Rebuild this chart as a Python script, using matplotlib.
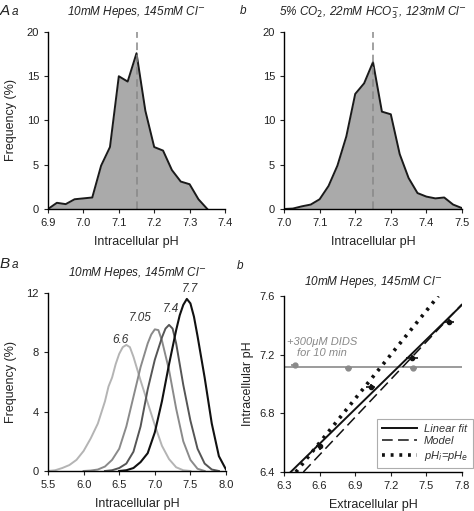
import matplotlib
matplotlib.use("Agg")
import matplotlib.pyplot as plt
from matplotlib.lines import Line2D

plt.rcParams['font.family'] = ['Liberation Sans', 'DejaVu Sans']
plt.rcParams['font.size'] = 8
plt.rcParams['axes.linewidth'] = 1.0
plt.rcParams['xtick.direction'] = 'out'
plt.rcParams['ytick.direction'] = 'out'
plt.rcParams['xtick.major.size'] = 3
plt.rcParams['ytick.major.size'] = 3

# === Panel Aa: Hepes histogram ===
aa_ph = [6.9, 6.925, 6.95, 6.975, 7.0, 7.025, 7.05, 7.075, 7.1, 7.125, 7.15, 7.175,
         7.2, 7.225, 7.25, 7.275, 7.3, 7.325, 7.35]
aa_freq = [0, 0.7, 0.55, 1.1, 1.2, 1.3, 4.9, 7.0, 15.0, 14.4, 17.6, 11.1,
           7.0, 6.6, 4.4, 3.1, 2.8, 1.1, 0]
aa_mean = 7.15

# === Panel Ab: CO2/HCO3 histogram ===
ab_ph = [7.0, 7.025, 7.05, 7.075, 7.1, 7.125, 7.15, 7.175, 7.2, 7.225, 7.25, 7.275,
         7.3, 7.325, 7.35, 7.375, 7.4, 7.425, 7.45, 7.475, 7.5]
ab_freq = [0, 0.05, 0.3, 0.5, 1.1, 2.6, 4.9, 8.2, 13.0, 14.2, 16.6, 11.0,
           10.7, 6.2, 3.5, 1.8, 1.4, 1.2, 1.3, 0.5, 0.1]
ab_mean = 7.25

# === Panel Ba: distributions at different pHe ===
ba_labels = ['6.6', '7.05', '7.4', '7.7']
ba_x1 = [5.5, 5.6, 5.7, 5.8, 5.9, 6.0, 6.1, 6.2, 6.3, 6.35, 6.4, 6.45, 6.5, 6.55,
         6.6, 6.65, 6.7, 6.8, 6.9, 7.0, 7.1, 7.2, 7.3, 7.4, 7.5]
ba_y1 = [0, 0.05, 0.2, 0.4, 0.75, 1.35, 2.2, 3.2, 4.7, 5.7, 6.3, 7.2, 7.9, 8.35,
         8.5, 8.35, 7.7, 6.1, 4.6, 3.1, 1.7, 0.8, 0.25, 0.05, 0]
ba_x2 = [6.0, 6.1, 6.2, 6.3, 6.4, 6.5, 6.6, 6.7, 6.8, 6.9, 6.95, 7.0, 7.05, 7.1,
         7.2, 7.3, 7.4, 7.5, 7.6, 7.7]
ba_y2 = [0, 0.03, 0.1, 0.3, 0.75, 1.5, 3.0, 5.0, 7.0, 8.6, 9.2, 9.55, 9.5, 8.8,
         6.8, 4.2, 2.0, 0.75, 0.15, 0]
ba_x3 = [6.3, 6.4, 6.5, 6.6, 6.7, 6.8, 6.9, 7.0, 7.1, 7.15, 7.2, 7.25, 7.3, 7.4,
         7.5, 7.6, 7.7, 7.8, 7.9]
ba_y3 = [0, 0.05, 0.2, 0.5, 1.3, 3.0, 5.5, 7.5, 9.0, 9.6, 9.85, 9.6, 8.6, 5.8,
         3.4, 1.5, 0.5, 0.1, 0]
ba_x4 = [6.5, 6.6, 6.7, 6.8, 6.9, 7.0, 7.1, 7.2, 7.3, 7.35, 7.4, 7.45, 7.5, 7.55,
         7.6, 7.7, 7.8, 7.9, 8.0]
ba_y4 = [0, 0.05, 0.2, 0.6, 1.2, 2.6, 4.7, 7.2, 9.5, 10.5, 11.2, 11.6, 11.3, 10.4,
         9.1, 6.3, 3.2, 1.0, 0.1]
ba_label_x = [6.52, 6.8, 7.22, 7.5]
ba_label_y = [8.8, 10.3, 10.9, 12.3]

# === Panel Bb: pHi vs pHe ===
bb_phe = [6.6, 7.03, 7.38, 7.69]
bb_phi = [6.575, 6.98, 7.175, 7.425]
bb_xerr = [0.03, 0.04, 0.05, 0.04]
bb_yerr = [0.025, 0.02, 0.02, 0.02]
dids_phe = [6.39, 6.84, 7.39]
dids_phi = [7.13, 7.11, 7.11]
dids_xerr = [0.03, 0.03, 0.03]
dids_level = 7.118
fit_x = [6.356, 7.8]
fit_y = [6.4, 7.54]
model_x = [6.463, 7.8]
model_y = [6.4, 7.545]
ident = [6.4, 7.6]

fig = plt.figure(figsize=(4.74, 5.11), dpi=100)
txt = '#222222'


def style(ax):
    ax.spines['top'].set_visible(False)
    ax.spines['right'].set_visible(False)
    ax.tick_params(colors=txt, labelsize=8)


# --- Aa ---
ax1 = fig.add_axes([0.1013, 0.591, 0.3734, 0.3464])
ax1.fill_between(aa_ph, aa_freq, color='#aaaaaa', lw=0)
ax1.plot(aa_ph, aa_freq, color='#1a1a1a', lw=1.4)
ax1.plot([aa_mean, aa_mean], [0, 20], color='#888888', lw=1.1, ls=(0, (5, 3)))
ax1.set_xlim(6.9, 7.4)
ax1.set_ylim(0, 20)
ax1.set_xticks([6.9, 7.0, 7.1, 7.2, 7.3, 7.4])
ax1.set_xticklabels(['6.9', '7.0', '7.1', '7.2', '7.3', '7.4'])
ax1.set_yticks([0, 5, 10, 15, 20])
ax1.set_xlabel('Intracellular pH', fontsize=9, color=txt, labelpad=6)
ax1.set_ylabel('Frequency (%)', fontsize=9, color=txt, labelpad=7)
ax1.set_title(r'10mM Hepes, 145mM Cl$^{-}$', fontsize=8.5, style='italic',
              color=txt, pad=12)
style(ax1)

# --- Ab ---
ax2 = fig.add_axes([0.5992, 0.591, 0.3755, 0.3464])
ax2.fill_between(ab_ph, ab_freq, color='#aaaaaa', lw=0)
ax2.plot(ab_ph, ab_freq, color='#1a1a1a', lw=1.4)
ax2.plot([ab_mean, ab_mean], [0, 20], color='#888888', lw=1.1, ls=(0, (5, 3)))
ax2.set_xlim(7.0, 7.5)
ax2.set_ylim(0, 20)
ax2.set_xticks([7.0, 7.1, 7.2, 7.3, 7.4, 7.5])
ax2.set_xticklabels(['7.0', '7.1', '7.2', '7.3', '7.4', '7.5'])
ax2.set_yticks([0, 5, 10, 15, 20])
ax2.set_xlabel('Intracellular pH', fontsize=9, color=txt, labelpad=6)
ax2.set_title(r'5% CO$_2$, 22mM HCO$_3^{-}$, 123mM Cl$^{-}$', fontsize=8.5,
              style='italic', color=txt, pad=12)
style(ax2)

# --- Ba ---
ax3 = fig.add_axes([0.1013, 0.0783, 0.3755, 0.3483])
ax3.plot(ba_x1, ba_y1, color='#b4b4b4', lw=1.4)
ax3.plot(ba_x2, ba_y2, color='#8a8a8a', lw=1.4)
ax3.plot(ba_x3, ba_y3, color='#555555', lw=1.4)
ax3.plot(ba_x4, ba_y4, color='#111111', lw=1.5)
for lab, lx, ly in zip(ba_labels, ba_label_x, ba_label_y):
    ax3.text(lx, ly, lab, fontsize=8.5, style='italic', color='#333333',
             ha='center', va='center')
ax3.set_xlim(5.5, 8.0)
ax3.set_ylim(0, 12)
ax3.set_xticks([5.5, 6.0, 6.5, 7.0, 7.5, 8.0])
ax3.set_xticklabels(['5.5', '6.0', '6.5', '7.0', '7.5', '8.0'])
ax3.set_yticks([0, 4, 8, 12])
ax3.set_xlabel('Intracellular pH', fontsize=9, color=txt, labelpad=6)
ax3.set_ylabel('Frequency (%)', fontsize=9, color=txt, labelpad=7)
ax3.set_title(r'10mM Hepes, 145mM Cl$^{-}$', fontsize=8.5, style='italic',
              color=txt, pad=12)
style(ax3)

# --- Bb ---
ax4 = fig.add_axes([0.5992, 0.0763, 0.3755, 0.3444])
ax4.plot([6.3, 7.8], [dids_level, dids_level], color='#8a8a8a', lw=1.2)
ax4.errorbar(dids_phe, dids_phi, xerr=dids_xerr, fmt='o', color='#8a8a8a',
             ms=3.5, elinewidth=1.2, capsize=0)
ax4.plot(ident, ident, color='#111111', lw=2.6, ls=(0, (0.8, 1.6)))
ax4.plot(model_x, model_y, color='#111111', lw=1.1, ls=(0, (7, 3.5)))
ax4.plot(fit_x, fit_y, color='#111111', lw=1.4)
ax4.errorbar(bb_phe, bb_phi, xerr=bb_xerr, yerr=bb_yerr, fmt='o', color='#111111',
             ms=3, elinewidth=1.2, capsize=0)
ax4.text(6.62, 7.25, '+300\u03bcM DIDS\nfor 10 min', fontsize=8, style='italic',
         color='#888888', ha='center', va='center', linespacing=1.1)
ax4.set_xlim(6.3, 7.8)
ax4.set_ylim(6.4, 7.6)
ax4.set_xticks([6.3, 6.6, 6.9, 7.2, 7.5, 7.8])
ax4.set_xticklabels(['6.3', '6.6', '6.9', '7.2', '7.5', '7.8'])
ax4.set_yticks([6.4, 6.8, 7.2, 7.6])
ax4.set_yticklabels(['6.4', '6.8', '7.2', '7.6'])
ax4.set_xlabel('Extracellular pH', fontsize=9, color=txt, labelpad=6)
ax4.set_ylabel('Intracellular pH', fontsize=9, color=txt, labelpad=4)
ax4.set_title(r'10mM Hepes, 145mM Cl$^{-}$', fontsize=8.5, style='italic',
              color=txt, pad=8)
style(ax4)
handles = [Line2D([], [], color='#111111', lw=1.4),
           Line2D([], [], color='#111111', lw=1.1, ls=(0, (7, 3.5))),
           Line2D([], [], color='#111111', lw=2.6, ls=(0, (0.8, 1.6)))]
leg = ax4.legend(handles, ['Linear fit', 'Model', r'pH$_i$=pH$_e$'],
                 loc='lower left', bbox_to_anchor=(0.525, 0.025),
                 fontsize=8, frameon=True, fancybox=False,
                 handlelength=3.2, handletextpad=0.6, borderpad=0.4,
                 labelspacing=0.25, borderaxespad=0)
leg.get_frame().set_edgecolor('#999999')
leg.get_frame().set_linewidth(0.8)
for t in leg.get_texts():
    t.set_style('italic')
    t.set_color('#333333')

# panel letters
fig.text(0.0, 0.978, 'A', fontsize=11, style='italic', color=txt, va='center')
fig.text(0.025, 0.976, 'a', fontsize=8.5, style='italic', color=txt, va='center')
fig.text(0.506, 0.978, 'b', fontsize=8.5, style='italic', color=txt, va='center')
fig.text(0.0, 0.484, 'B', fontsize=11, style='italic', color=txt, va='center')
fig.text(0.025, 0.482, 'a', fontsize=8.5, style='italic', color=txt, va='center')
fig.text(0.5, 0.480, 'b', fontsize=8.5, style='italic', color=txt, va='center')

fig.savefig('out.png', dpi=100)
